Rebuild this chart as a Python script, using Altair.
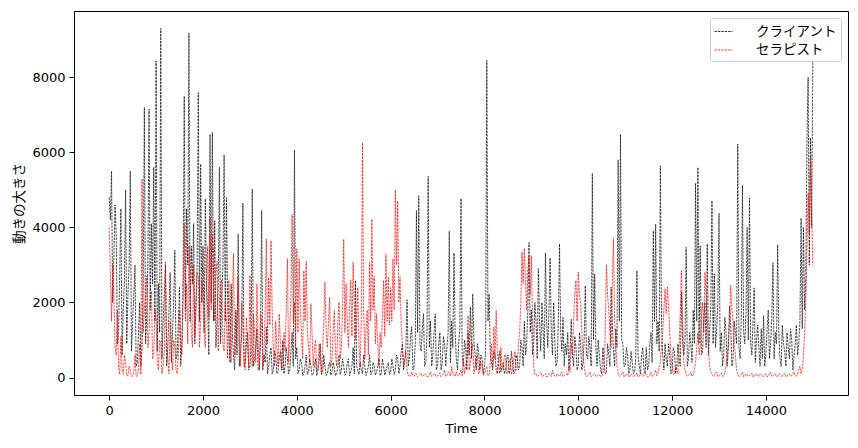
import altair as alt
import pandas as pd

# sample times (every 50) and the in-between times (every 50, offset 25)
time_main = list(range(0, 15001, 50))
time_between = list(range(25, 15000, 50))

client_main = [
    4800, 5500, 3200, 3800, 1200, 4500, 1800, 5000, 2200, 5500, 1500, 3000, 400, 2000, 800, 7200, 1600, 7150, 4100, 5600,
    8430, 2500, 9300, 1500, 3000, 800, 2800, 1200, 3400, 600, 2400, 900, 7500, 4500, 9180, 3500, 4100, 2000, 7590, 5690,
    3500, 4760, 1800, 6480, 6530, 4180, 1500, 5600, 2200, 5930, 4800, 1200, 2500, 600, 1800, 3830, 700, 4650, 400, 1200,
    300, 5020, 500, 1300, 200, 4450, 600, 1350, 300, 800, 200, 600, 150, 700, 990, 300, 500, 200, 1200, 6060,
    800, 200, 400, 100, 600, 150, 300, 100, 500, 200, 900, 150, 300, 100, 400, 150, 250, 100, 600, 200,
    300, 100, 500, 150, 800, 2590, 200, 400, 100, 300, 150, 600, 100, 300, 150, 500, 100, 300, 200, 400,
    150, 300, 200, 500, 300, 900, 400, 2070, 500, 1350, 300, 4450, 4840, 700, 1700, 400, 5360, 1500, 600, 1700,
    300, 1200, 400, 900, 800, 3900, 1500, 3320, 500, 900, 4770, 300, 800, 1200, 1880, 2230, 600, 900, 200, 500,
    300, 8450, 2230, 400, 700, 200, 500, 150, 400, 200, 600, 200, 400, 150, 500, 300, 800, 1500, 900, 3600,
    1800, 900, 1500, 2900, 700, 1300, 3320, 800, 3190, 600, 1000, 400, 3560, 700, 300, 600, 200, 1550, 300, 800,
    300, 900, 400, 2450, 500, 800, 5440, 2760, 300, 600, 100, 400, 150, 600, 2410, 700, 1300, 5800, 6480, 900,
    300, 600, 200, 400, 150, 2850, 300, 600, 200, 800, 300, 1200, 3910, 4090, 1500, 5640, 600, 900, 300, 600,
    200, 700, 300, 500, 2280, 600, 3470, 500, 900, 1800, 5180, 5600, 3500, 700, 2000, 3560, 1200, 4710, 2760, 1300,
    4380, 1200, 600, 1200, 800, 1400, 500, 1200, 6220, 500, 5120, 900, 4000, 4780, 600, 2390, 1000, 800, 1300, 1650,
    600, 1800, 900, 3060, 1200, 3540, 500, 1400, 700, 1200, 500, 1000, 600, 1400, 900, 4250, 4000, 2670, 8000, 6390,
    8400,
]

client_between = [
    4200, 2000, 4600, 900, 2800, 600, 2600, 900, 3000, 700, 2200, 300, 1200, 300, 2500, 900, 3000, 1800, 2500, 1500,
    700, 1200, 500, 2200, 300, 1800, 400, 2000, 500, 1500, 300, 2500, 1800, 3000, 1500, 2500, 900, 3000, 1500, 2000,
    1200, 2500, 600, 2000, 1500, 800, 2500, 900, 3000, 1500, 2000, 400, 1200, 200, 600, 300, 1100, 300, 900, 200,
    900, 300, 800, 200, 900, 200, 400, 100, 600, 100, 700, 100, 500, 200, 100, 800, 100, 700, 300, 500,
    100, 500, 50, 300, 80, 500, 60, 300, 50, 400, 80, 600, 50, 300, 60, 400, 50, 300, 80, 500,
    60, 400, 50, 300, 100, 300, 80, 200, 600, 50, 300, 80, 400, 60, 300, 50, 500, 60, 300, 80,
    500, 80, 600, 100, 700, 200, 800, 300, 1100, 200, 900, 1200, 900, 1300, 300, 1200, 800, 300, 1200, 200,
    900, 200, 1100, 300, 1200, 400, 800, 1200, 200, 1300, 600, 1000, 200, 600, 500, 1000, 200, 700, 600, 100,
    700, 1500, 600, 200, 600, 100, 700, 300, 100, 500, 100, 700, 100, 600, 200, 1000, 300, 600, 1800, 1200,
    600, 2000, 500, 1500, 2000, 500, 1500, 1800, 1200, 2000, 300, 1500, 1200, 1600, 900, 1200, 700, 600, 1100, 200,
    1200, 200, 1000, 600, 1100, 300, 1000, 800, 1000, 200, 800, 100, 900, 300, 1500, 300, 800, 1500, 1000, 300,
    800, 100, 700, 100, 500, 600, 100, 800, 100, 200, 900, 400, 1500, 900, 700, 1500, 200, 500, 900, 100,
    800, 100, 900, 300, 900, 1000, 300, 1200, 400, 900, 1500, 900, 600, 1500, 800, 600, 1900, 900, 800, 2000,
    700, 300, 1600, 300, 1900, 300, 1500, 900, 800, 1600, 1200, 1700, 1000, 900, 1500, 400, 1400, 300, 500, 300,
    1300, 500, 1600, 500, 900, 1200, 300, 900, 300, 800, 1300, 200, 900, 600, 1500, 1300, 1800, 6300, 3000, 4000,
]

therapist_main = [
    4000, 1500, 2200, 600, 300, 1100, 100, 400, 50, 200, 30, 600, 50, 900, 5290, 1800, 2700, 1200, 2300, 600,
    1500, 200, 900, 300, 3070, 500, 1500, 200, 800, 100, 1800, 600, 4100, 2500, 3500, 1200, 3000, 1800, 2700, 1500,
    2200, 800, 3500, 4270, 3800, 1500, 3100, 1800, 2600, 700, 1500, 2590, 400, 3300, 800, 2700, 300, 1400, 200, 900,
    2720, 300, 1200, 2500, 200, 1500, 600, 3690, 2670, 3650, 700, 1500, 300, 1000, 200, 700, 3160, 1200, 4340, 2000,
    3430, 3160, 1200, 2850, 3100, 800, 1970, 300, 1000, 200, 600, 700, 2540, 800, 2140, 500, 1790, 300, 2010, 800,
    3690, 2500, 800, 2600, 3070, 1000, 2400, 300, 6260, 500, 1800, 3070, 4220, 2700, 1700, 300, 800, 2590, 3300, 2670,
    2400, 3160, 5000, 4710, 2670, 900, 500, 200, 80, 150, 30, 100, 50, 120, 40, 90, 30, 150, 50, 100,
    40, 120, 60, 200, 50, 100, 300, 80, 150, 40, 200, 500, 300, 1650, 400, 900, 300, 600, 150, 300,
    100, 300, 80, 900, 1350, 1790, 300, 800, 200, 600, 150, 500, 200, 700, 300, 1200, 3340, 3440, 1800, 3230,
    3250, 300, 100, 50, 150, 40, 100, 30, 80, 200, 50, 100, 30, 150, 50, 100, 300, 900, 1500, 2590,
    2810, 2000, 600, 100, 50, 150, 40, 100, 30, 80, 40, 300, 3010, 1800, 800, 3710, 900, 100, 50, 150,
    40, 100, 30, 80, 50, 120, 30, 100, 50, 80, 30, 150, 50, 200, 100, 400, 1200, 2360, 2410, 1200,
    300, 100, 200, 800, 2850, 400, 100, 50, 150, 80, 400, 1200, 800, 2000, 2810, 1500, 300, 100, 50, 150,
    50, 120, 40, 300, 900, 2450, 1500, 600, 100, 50, 150, 30, 80, 40, 120, 30, 100, 50, 80, 30,
    100, 40, 150, 50, 100, 30, 80, 40, 120, 30, 100, 50, 150, 40, 200, 100, 600, 2000, 4900, 5860,
    3000,
]

therapist_between = [
    2800, 3000, 800, 1800, 80, 200, 600, 50, 300, 40, 150, 30, 200, 80, 1200, 2200, 800, 2000, 500, 1800,
    400, 1000, 100, 700, 900, 100, 600, 1000, 200, 600, 1000, 2000, 1500, 900, 2500, 800, 1100, 2800, 800, 2600,
    1200, 2400, 1600, 1800, 2500, 2800, 700, 2500, 900, 2000, 500, 900, 1800, 600, 1600, 900, 2000, 500, 1600, 300,
    800, 1700, 400, 900, 1700, 300, 1800, 900, 1400, 1800, 300, 800, 1700, 300, 1200, 1800, 400, 2200, 1500, 800,
    1200, 1800, 500, 1500, 1200, 400, 1200, 800, 200, 900, 100, 1500, 1200, 1500, 300, 1200, 600, 1500, 500, 1800,
    1200, 1500, 1900, 1100, 1800, 1500, 900, 1500, 1800, 1300, 600, 1500, 1800, 900, 900, 1200, 1600, 1100, 1500, 1400,
    1500, 1800, 3000, 2000, 1400, 300, 700, 50, 30, 60, 100, 20, 80, 30, 100, 20, 70, 30, 100, 20,
    80, 20, 100, 30, 150, 40, 100, 30, 60, 120, 50, 100, 600, 200, 700, 100, 500, 100, 400, 50,
    200, 50, 400, 300, 500, 700, 100, 300, 600, 100, 400, 80, 500, 200, 900, 2000, 2500, 2600, 2900, 2200,
    1500, 80, 30, 100, 30, 80, 20, 100, 30, 60, 20, 60, 100, 20, 80, 50, 150, 600, 2200, 1500,
    2200, 1200, 300, 30, 100, 20, 80, 30, 60, 20, 100, 1200, 2200, 1200, 2500, 1500, 300, 30, 100, 20,
    80, 20, 100, 30, 60, 20, 80, 30, 100, 20, 60, 30, 100, 50, 300, 900, 1800, 1700, 1900, 600,
    80, 300, 100, 1800, 1500, 200, 30, 100, 30, 200, 800, 600, 1600, 1200, 2200, 800, 150, 30, 100, 20,
    80, 30, 150, 600, 1500, 1800, 900, 200, 30, 100, 20, 100, 30, 80, 20, 90, 30, 100, 20, 80,
    20, 100, 30, 80, 20, 100, 30, 90, 20, 80, 30, 100, 40, 80, 300, 200, 1200, 3500, 3800, 4500,
]

series_names = ["クライアント", "セラピスト"]
series_colors = ["#000000", "#ff0000"]
x_ticks = [0, 2000, 4000, 6000, 8000, 10000, 12000, 14000]
y_ticks = [0, 2000, 4000, 6000, 8000]

df = pd.concat([
    pd.DataFrame({"Time": time_main, "value": client_main, "series": series_names[0]}),
    pd.DataFrame({"Time": time_between, "value": client_between, "series": series_names[0]}),
    pd.DataFrame({"Time": time_main, "value": therapist_main, "series": series_names[1]}),
    pd.DataFrame({"Time": time_between, "value": therapist_between, "series": series_names[1]}),
], ignore_index=True).sort_values(["series", "Time"]).reset_index(drop=True)

x_enc = alt.X(
    "Time:Q",
    scale=alt.Scale(domain=[-750, 15750], nice=False, zero=False),
    axis=alt.Axis(values=x_ticks, title="Time", labelFlush=False, labelOverlap=False,
                  titleFont="DejaVu Sans", titlePadding=5, format="d"),
)
y_enc = alt.Y(
    "value:Q",
    scale=alt.Scale(domain=[-465, 9765], nice=False, zero=False),
    axis=alt.Axis(values=y_ticks, title="動きの大きさ", labelFlush=False, labelOverlap=False,
                  titleFont="Noto Sans CJK JP", titleFontSize=13.5, titlePadding=5, format="d"),
)
color_enc = alt.Color(
    "series:N",
    scale=alt.Scale(domain=series_names, range=series_colors),
    legend=alt.Legend(
        title=None, orient="top-right", offset=7, padding=4,
        fillColor="rgba(255,255,255,0.8)", strokeColor="#cccccc", cornerRadius=3,
        symbolType="stroke", symbolSize=324, symbolStrokeWidth=0.8, symbolDash=[2.4, 1.0],
        labelFont="Noto Sans CJK JP", labelFontSize=13.5, labelColor="black",
        labelOffset=23, rowPadding=2.5,
    ),
)


def layer(name):
    return alt.Chart(df).transform_filter(alt.datum.series == name).mark_line(
        strokeWidth=0.7, strokeDash=[2.4, 1.0]
    ).encode(x=x_enc, y=y_enc, color=color_enc, order="Time:Q")


chart = alt.layer(layer(series_names[0]), layer(series_names[1])).properties(
    width=774,
    height=384,
    autosize=alt.AutoSizeParams(type="none"),
    padding={"left": 66, "top": 3, "right": 1, "bottom": 45},
).configure_view(
    stroke="black", strokeWidth=1
).configure_axis(
    domain=False, grid=False, ticks=True, tickColor="black", tickSize=5, tickWidth=1,
    labelFont="DejaVu Sans", labelFontSize=13, labelColor="black", labelPadding=4,
    titleFontSize=13, titleFontWeight="normal", titleColor="black",
)

chart.save("out.html", embed_options={"renderer": "svg", "actions": False})
